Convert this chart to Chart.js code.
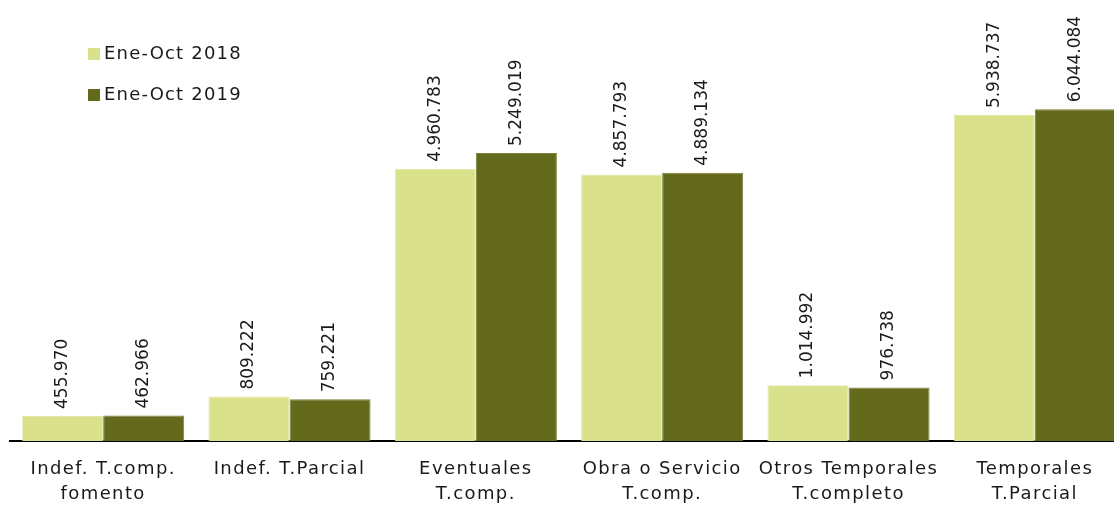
<!DOCTYPE html>
<html>
<head>
<meta charset="utf-8">
<script src="https://cdn.jsdelivr.net/npm/chart.js@4"></script>
<style>
  html, body { margin: 0; padding: 0; background: #fff; overflow: hidden; }
  #wrap { width: 1130px; height: 508px; }
</style>
</head>
<body>
<div id="wrap"><canvas id="contratosChart"></canvas></div>
<script>
const categorias = [
    ['Indef. T.comp.', 'fomento'],
    'Indef. T.Parcial',
    ['Eventuales', 'T.comp.'],
    ['Obra o Servicio', 'T.comp.'],
    ['Otros Temporales', 'T.completo'],
    ['Temporales', 'T.Parcial']
]
const serie2018 = [455970, 809222, 4960783, 4857793, 1014992, 5938737]
const serie2019 = [462966, 759221, 5249019, 4889134, 976738, 6044084]
const etiquetasSeries = ['Ene-Oct 2018', 'Ene-Oct 2019']

const fuente = "'DejaVu Sans', sans-serif"

// espaciado de letras para acercarse a la fuente ancha del original
const espaciado = {
    id: 'espaciado',
    beforeDraw(chart) {
        chart.ctx.letterSpacing = '1.4px'
    }
}

// etiquetas de valor giradas encima de cada barra
const etiquetas = {
    id: 'etiquetas',
    afterDatasetsDraw(chart) {
        const ctx = chart.ctx
        ctx.save()
        ctx.letterSpacing = '0px'
        ctx.font = '17px ' + fuente
        ctx.fillStyle = '#1a1a1a'
        ctx.textAlign = 'left'
        ctx.textBaseline = 'middle'
        chart.data.datasets.forEach((ds, i) => {
            chart.getDatasetMeta(i).data.forEach((bar, j) => {
                const txt = ds.data[j].toLocaleString('de-DE')
                ctx.save()
                ctx.translate(bar.x, bar.y - 7)
                ctx.rotate(-Math.PI / 2)
                ctx.fillText(txt, 0, 0)
                ctx.restore()
            })
        })
        ctx.restore()
    }
}

// leyenda dentro del área, arriba a la izquierda
const leyenda = {
    id: 'leyenda',
    afterDraw(chart) {
        const ctx = chart.ctx
        ctx.save()
        ctx.letterSpacing = '1.2px'
        ctx.font = '18px ' + fuente
        ctx.textBaseline = 'middle'
        ctx.textAlign = 'left'
        chart.data.datasets.forEach((ds, i) => {
            const y = 54 + i * 41
            ctx.fillStyle = ds.backgroundColor
            ctx.fillRect(88, y - 6, 12, 12)
            ctx.fillStyle = '#1a1a1a'
            ctx.fillText(ds.label, 104, y)
        })
        ctx.restore()
    }
}

new Chart(document.getElementById('contratosChart'), {
    type: 'bar',
    data: {
        labels: categorias,
        datasets: [
            {
                label: etiquetasSeries[0],
                data: serie2018,
                backgroundColor: '#d9e18b',
                borderColor: '#e2e8a4',
                borderWidth: 1
            },
            {
                label: etiquetasSeries[1],
                data: serie2019,
                backgroundColor: '#646a1c',
                borderColor: '#7a7f3a',
                borderWidth: 1
            }
        ]
    },
    options: {
        responsive: true,
        maintainAspectRatio: false,
        animation: false,
        layout: { padding: { left: 10, right: 2, top: 2, bottom: 0 } },
        plugins: {
            legend: { display: false },
            tooltip: { enabled: false }
        },
        datasets: {
            bar: { categoryPercentage: 0.87, barPercentage: 1 }
        },
        scales: {
            x: {
                grid: { display: false, drawTicks: false },
                border: { display: true, color: '#000', width: 2 },
                ticks: {
                    color: '#1a1a1a',
                    font: { family: fuente, size: 18, lineHeight: 1.4 },
                    padding: 16,
                    maxRotation: 0,
                    autoSkip: false
                },
                afterFit(scale) { scale.height = 67 }
            },
            y: {
                display: false,
                min: 0,
                max: 8000000
            }
        }
    },
    plugins: [espaciado, etiquetas, leyenda]
})
</script>
</body>
</html>
